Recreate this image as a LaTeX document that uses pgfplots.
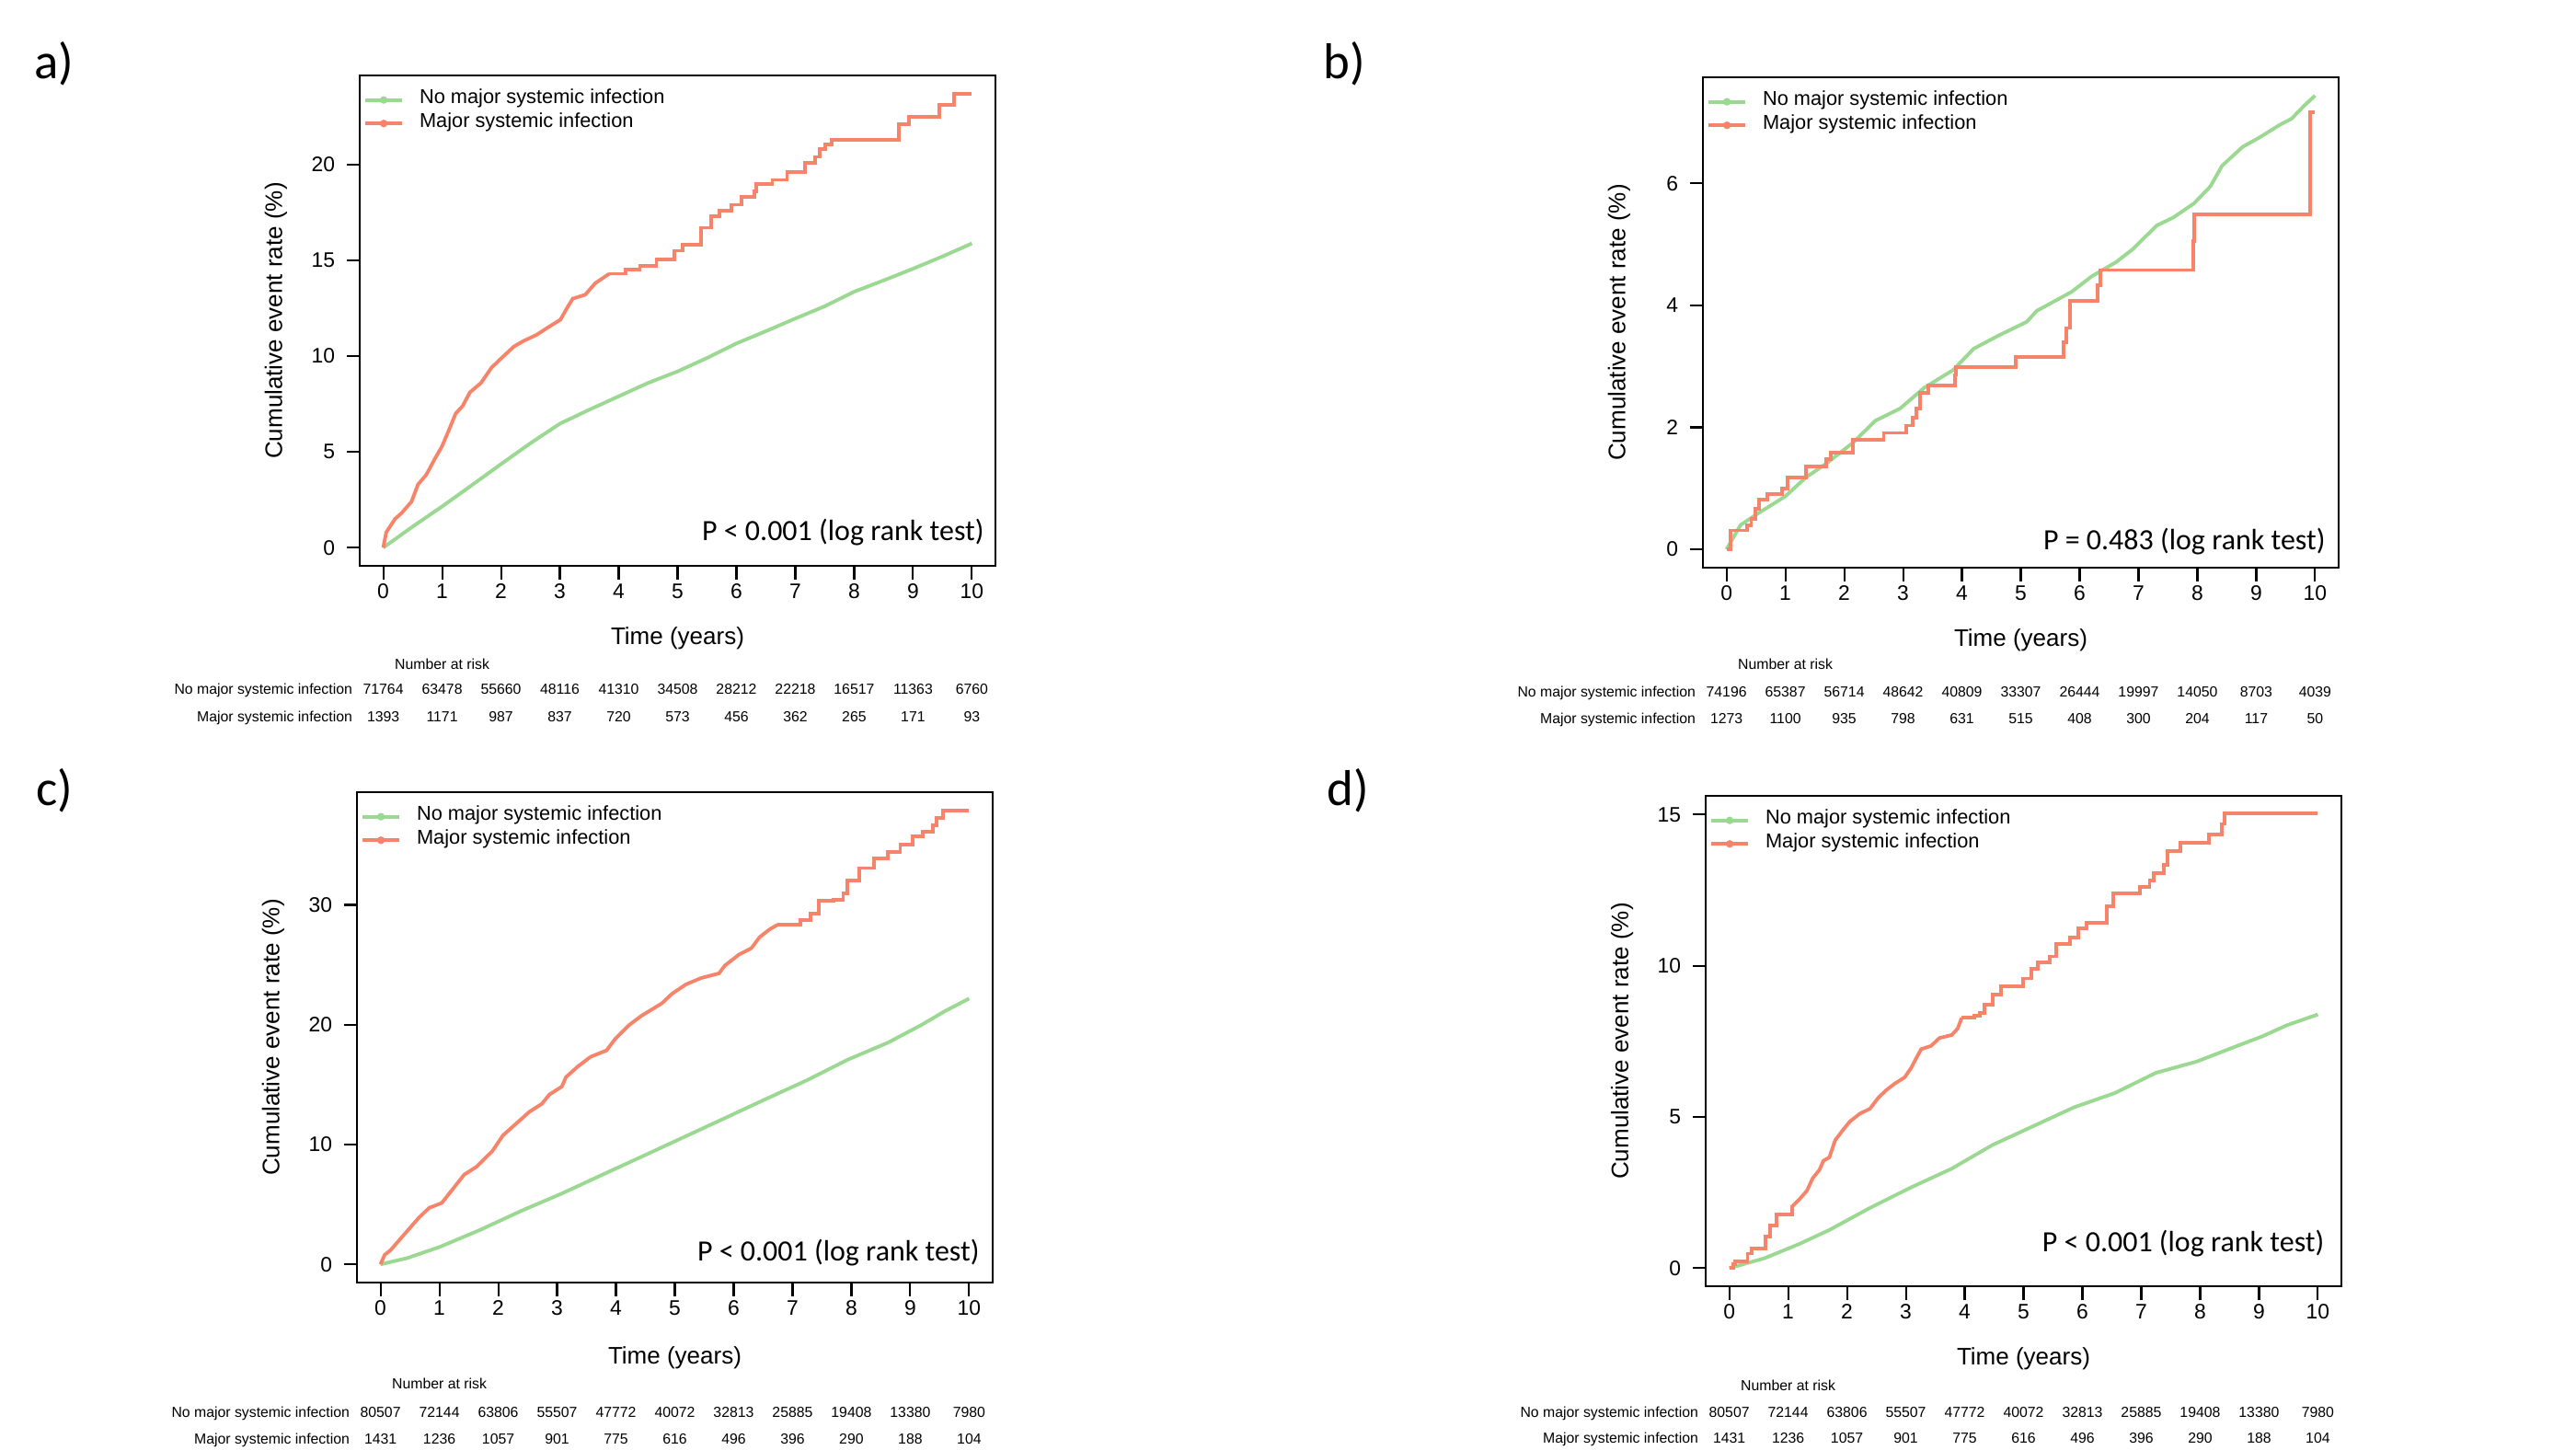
\documentclass[border=0pt]{standalone}
\usepackage{fontspec}
\setmainfont{Liberation Sans}
\newfontfamily\calibri{Carlito}
\usepackage{pgfplots}
\pgfplotsset{compat=1.18}
\usetikzlibrary{calc}

\definecolor{kmgreen}{RGB}{155,216,145}
\definecolor{kmred}{RGB}{246,132,106}

\pgfplotsset{
  kmaxis/.style={
    scale only axis, width=6.91cm, height=5.33cm,
    anchor=south west,
    xmin=-0.4, xmax=10.4, xtick={0,...,10},
    tick align=outside, tick pos=left,
    major tick length=0.145cm,
    axis line style={line width=0.6pt},
    every tick/.style={black, line width=0.6pt},
    ticklabel style={font=\fontsize{6.5}{7}\selectfont},
    xticklabel style={yshift=0.07cm},
    /pgf/number format/assume math mode=true,
    xlabel={Time (years)},
    ylabel={Cumulative event rate (\%)},
    label style={font=\fontsize{7.4}{8}\selectfont},
    xlabel style={at={(axis description cs:0.5,0)}, anchor=mid, yshift=-0.76cm},
    ylabel style={at={(axis description cs:-0.1317,0.5)}, anchor=center},
    legend style={at={(axis description cs:0.005,0.926)}, anchor=west,
      draw=none, fill=none, inner sep=0pt, row sep=0pt, column sep=0.17cm,
      font=\fontsize{6.2}{7}\selectfont,
      nodes={inner sep=0pt, text height=0.17cm, text depth=0.086cm}},
    legend cell align=left,
    legend image code/.code={
      \draw[##1, line width=1.1pt] (0cm,0cm) -- (0.4cm,0cm);
      \fill[##1] (0.2cm,0cm) circle (0.034cm);},
  },
  greenline/.style={kmgreen, line width=1.1pt, mark=none, forget plot},
  redline/.style={kmred, line width=1.1pt, mark=none, const plot, forget plot},
  reddense/.style={kmred, line width=1.1pt, mark=none, sharp plot, forget plot},
}

\tikzset{riskfont/.style={font=\fontsize{4.5}{5}\selectfont, inner sep=0pt, anchor=mid}}

% number-at-risk table under an axis: name, offsets (cm) of title/row1/row2, row1 values, row2 values
\newcommand{\risk}[6]{%
  \coordinate (rl) at ($(#1.south west)!0.03704!(#1.south east)$);
  \node[riskfont] at ($(rl)+(0.6398,-#2)$) {Number at risk};
  \node[riskfont, anchor=mid east] at ($(rl)+(-0.33,-#3)$) {No major systemic infection};
  \node[riskfont, anchor=mid east] at ($(rl)+(-0.33,-#4)$) {Major systemic infection};
  \foreach \v [count=\i from 0] in {#5} \node[riskfont] at ($(rl)+(\i*0.6398,-#3)$) {\v};
  \foreach \v [count=\i from 0] in {#6} \node[riskfont] at ($(rl)+(\i*0.6398,-#4)$) {\v};
}

\newcommand{\pval}[3]{\node[anchor=base east, inner sep=0pt, font=\calibri\fontsize{9.1}{10}\selectfont] at (axis description cs:#1,#2) {#3};}

\begin{document}
\begin{tikzpicture}
\path[use as bounding box] (0,0) rectangle (28,15.75);

% ---------------- a)
\begin{axis}[kmaxis, name=pa, at={(3.91cm,9.60cm)},
  ymin=-0.95, ymax=24.65, ytick={0,5,10,15,20}]
\addlegendimage{kmgreen}\addlegendentry{No major systemic infection}
\addlegendimage{kmred}\addlegendentry{Major systemic infection}
\addplot[greenline] coordinates {(0,0) (0.5,1.1) (1,2.15) (1.5,3.25) (2,4.36) (2.5,5.45)
  (3,6.47) (3.5,7.2) (4,7.9) (4.5,8.6) (5,9.2) (5.5,9.9) (6,10.66) (6.5,11.3) (7,11.96)
  (7.5,12.6) (8,13.36) (8.5,13.95) (9,14.56) (9.5,15.2) (10,15.88)};
\addplot[reddense] coordinates {(0,0) (0.05,0.8) (0.2,1.5) (0.31,1.8) (0.48,2.4) (0.59,3.3)
  (0.73,3.8) (0.87,4.6) (1.0,5.3) (1.11,6.1) (1.23,7.0) (1.35,7.4) (1.47,8.1) (1.66,8.6)
  (1.84,9.4) (2.01,9.9) (2.22,10.5) (2.39,10.8) (2.6,11.1) (2.8,11.5) (3.01,11.9) (3.12,12.5)
  (3.22,13.0) (3.43,13.2) (3.6,13.8) (3.84,14.3)};
\addplot[redline] coordinates {(3.84,14.3) (4.12,14.5) (4.36,14.7) (4.64,15.05)
  (4.95,15.5) (5.09,15.8) (5.4,16.7) (5.57,17.3) (5.71,17.6) (5.92,17.9) (6.09,18.3)
  (6.3,18.6) (6.34,19.0) (6.61,19.2) (6.86,19.6) (7.17,20.1) (7.34,20.4) (7.41,20.8)
  (7.51,21.05) (7.62,21.3) (8.76,22.1) (8.93,22.5) (9.45,23.1) (9.7,23.7) (10.0,23.7)};
\pval{0.983}{0.0507}{P < 0.001 (log rank test)}
\end{axis}
\risk{pa}{1.03}{1.30}{1.60}{71764,63478,55660,48116,41310,34508,28212,22218,16517,11363,6760}{1393,1171,987,837,720,573,456,362,265,171,93}

% ---------------- b)
\begin{axis}[kmaxis, name=pb, at={(18.51cm,9.58cm)},
  ymin=-0.3, ymax=7.74, ytick={0,2,4,6}]
\addlegendimage{kmgreen}\addlegendentry{No major systemic infection}
\addlegendimage{kmred}\addlegendentry{Major systemic infection}
\addplot[greenline] coordinates {(0,0) (0.24,0.4) (0.52,0.58) (1.0,0.87) (1.35,1.18) (1.7,1.41)
  (2.15,1.75) (2.53,2.11) (2.95,2.31) (3.36,2.65) (3.85,2.94) (4.2,3.29) (4.61,3.5) (5.1,3.73)
  (5.27,3.91) (5.86,4.22) (6.21,4.48) (6.62,4.71) (6.9,4.92) (7.31,5.31) (7.59,5.44)
  (7.94,5.67) (8.22,5.95) (8.42,6.29) (8.77,6.6) (9.05,6.75) (9.4,6.96) (9.6,7.06)
  (9.81,7.27) (10.0,7.44)};
\addplot[redline] coordinates {(0,0) (0.07,0.31) (0.35,0.4) (0.42,0.5) (0.49,0.66) (0.55,0.82)
  (0.69,0.91) (0.94,1.0) (1.04,1.18) (1.35,1.36) (1.7,1.48) (1.77,1.58) (2.15,1.8)
  (2.67,1.91) (3.05,2.03) (3.16,2.16) (3.22,2.31) (3.29,2.57) (3.43,2.69) (3.88,2.86)
  (3.9,2.99) (4.92,3.16) (5.72,3.4) (5.78,3.63) (5.83,4.07) (6.31,4.33) (6.35,4.58)
  (7.93,5.05) (7.94,5.49) (9.92,7.16) (10.0,7.16)};
\pval{0.98}{0.036}{P = 0.483 (log rank test)}
\end{axis}
\risk{pb}{1.01}{1.31}{1.60}{74196,65387,56714,48642,40809,33307,26444,19997,14050,8703,4039}{1273,1100,935,798,631,515,408,300,204,117,50}

% ---------------- c)
\begin{axis}[kmaxis, name=pc, at={(3.88cm,1.81cm)},
  ymin=-1.52, ymax=39.4, ytick={0,10,20,30},
  xlabel style={yshift=-0.03cm}]
\addlegendimage{kmgreen}\addlegendentry{No major systemic infection}
\addlegendimage{kmred}\addlegendentry{Major systemic infection}
\addplot[greenline] coordinates {(0,0) (0.45,0.52) (1.0,1.44) (1.7,2.89) (2.39,4.46) (3.08,5.91)
  (3.77,7.48) (4.47,9.06) (5.16,10.63) (5.85,12.2) (6.54,13.78) (7.24,15.35) (7.93,17.06)
  (8.62,18.5) (9.18,19.95) (9.59,21.13) (10.0,22.18)};
\addplot[reddense] coordinates {(0,0) (0.07,0.79) (0.17,1.18) (0.31,1.97) (0.45,2.76) (0.66,3.94)
  (0.83,4.72) (1.04,5.12) (1.21,6.17) (1.42,7.48) (1.63,8.14) (1.9,9.45) (2.08,10.76)
  (2.29,11.68) (2.53,12.73) (2.74,13.39) (2.87,14.17) (3.08,14.83) (3.15,15.62) (3.36,16.54)
  (3.57,17.32) (3.84,17.85) (3.98,18.77) (4.22,19.95) (4.43,20.73) (4.78,21.78) (4.95,22.57)
  (5.19,23.36) (5.44,23.88) (5.75,24.28) (5.85,24.93) (6.09,25.85) (6.3,26.38) (6.44,27.3)
  (6.61,27.95) (6.75,28.35)};
\addplot[redline] coordinates {(6.75,28.35) (7.13,28.74) (7.31,29.27) (7.45,30.31) (7.69,30.45) (7.86,30.97)
  (7.93,32.02) (8.14,33.07) (8.38,33.86) (8.62,34.38) (8.83,35.04) (9.04,35.7) (9.21,36.09)
  (9.38,36.61) (9.45,37.27) (9.56,37.85) (10.0,37.85)};
\pval{0.98}{0.045}{P < 0.001 (log rank test)}
\end{axis}
\risk{pc}{1.06}{1.37}{1.66}{80507,72144,63806,55507,47772,40072,32813,25885,19408,13380,7980}{1431,1236,1057,901,775,616,496,396,290,188,104}

% ---------------- d)
\begin{axis}[kmaxis, name=pd, at={(18.54cm,1.77cm)},
  ymin=-0.6, ymax=15.62, ytick={0,5,10,15}]
\addlegendimage{kmgreen}\addlegendentry{No major systemic infection}
\addlegendimage{kmred}\addlegendentry{Major systemic infection}
\addplot[greenline] coordinates {(0,0) (0.59,0.32) (1.18,0.79) (1.7,1.26) (2.39,1.99) (3.09,2.67)
  (3.78,3.29) (4.47,4.07) (5.17,4.7) (5.86,5.32) (6.55,5.79) (7.25,6.46) (7.94,6.83)
  (8.63,7.35) (9.05,7.66) (9.47,8.03) (10.0,8.39)};
\addplot[redline] coordinates {(0,0) (0.07,0.12) (0.1,0.22) (0.31,0.48) (0.38,0.64) (0.62,1.05)
  (0.69,1.42) (0.8,1.78) (1.07,2.04)};
\addplot[reddense] coordinates {(1.07,1.78) (1.07,2.04) (1.18,2.25) (1.32,2.56) (1.42,2.98) (1.53,3.24)
  (1.6,3.55) (1.7,3.66) (1.8,4.23) (1.94,4.59) (2.05,4.85) (2.22,5.11) (2.39,5.27)
  (2.53,5.63) (2.67,5.89) (2.81,6.1) (2.98,6.31) (3.09,6.62) (3.16,6.88) (3.26,7.24)
  (3.43,7.35) (3.57,7.61) (3.78,7.71) (3.88,7.92) (3.95,8.28)};
\addplot[redline] coordinates {(3.95,8.28) (4.16,8.34) (4.26,8.44)
  (4.33,8.7) (4.47,9.06) (4.61,9.32) (4.99,9.58) (5.13,9.9) (5.24,10.1) (5.44,10.31)
  (5.55,10.73) (5.79,10.94) (5.93,11.25) (6.07,11.41) (6.41,11.98) (6.52,12.4) (6.97,12.61)
  (7.14,12.81) (7.21,13.07) (7.38,13.33) (7.45,13.8) (7.66,14.06) (8.15,14.35) (8.37,14.69)
  (8.41,15.03) (10.0,15.03)};
\pval{0.974}{0.07}{P < 0.001 (log rank test)}
\end{axis}
\risk{pd}{1.04}{1.33}{1.61}{80507,72144,63806,55507,47772,40072,32813,25885,19408,13380,7980}{1431,1236,1057,901,775,616,496,396,290,188,104}

% panel letters
\node[anchor=base west, inner sep=0pt, font=\calibri\fontsize{15.6}{17}\selectfont] at (0.37,14.89) {a)};
\node[anchor=base west, inner sep=0pt, font=\calibri\fontsize{15.6}{17}\selectfont] at (14.38,14.89) {b)};
\node[anchor=base west, inner sep=0pt, font=\calibri\fontsize{15.6}{17}\selectfont] at (0.39,7.00) {c)};
\node[anchor=base west, inner sep=0pt, font=\calibri\fontsize{15.6}{17}\selectfont] at (14.42,7.00) {d)};
\end{tikzpicture}
\end{document}
